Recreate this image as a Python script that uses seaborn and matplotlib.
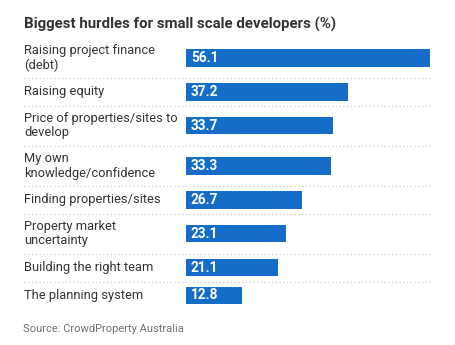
import numpy as np
import pandas as pd
import seaborn as sns
import matplotlib.pyplot as plt
from matplotlib.transforms import blended_transform_factory, offset_copy

# Survey results: share of respondents naming each hurdle (%)
hurdles = [
    "Raising project finance\n(debt)",
    "Raising equity",
    "Price of properties/sites to\ndevelop",
    "My own\nknowledge/confidence",
    "Finding properties/sites",
    "Property market\nuncertainty",
    "Building the right team",
    "The planning system",
]
shares = [56.1, 37.2, 33.7, 33.3, 26.7, 23.1, 21.1, 12.8]

title = "Biggest hurdles for small scale developers (%)"
source = "Source: CrowdProperty Australia"

BLUE = "#156dc8"
TEXT = "#333333"
GREY = "#707070"
FONT = "Roboto"

sns.set_theme(style="white")
plt.rcParams["font.family"] = [FONT, "DejaVu Sans"]

W, H = 456, 345
fig = plt.figure(figsize=(W / 100, H / 100), dpi=100)

# bar area spans these horizontal pixels; y data units are pixels from the top
left_px, right_px, label_px = 186, 430, 24
ax = fig.add_axes([left_px / W, 0, (right_px - left_px) / W, 1])

# each row is taller when its label wraps onto two lines
row_single, row_extra, first_top = 27.8, 12.3, 37.7
n_lines = np.array([h.count("\n") + 1 for h in hurdles])
row_h = row_single + row_extra * (n_lines - 1)
row_top = first_top + np.concatenate([[0], np.cumsum(row_h)[:-1]])
centers = row_top + row_h / 2
bar_px = 17.6

df = pd.DataFrame({"hurdle": hurdles, "share": shares, "ypos": centers})
sns.barplot(
    data=df, x="share", y="ypos", orient="h", native_scale=True,
    width=bar_px / np.diff(centers).min(), color=BLUE, saturation=1,
    edgecolor="none", linewidth=0, ax=ax,
)

xmax = max(shares)
ax.set_xlim(0, xmax)
ax.set_ylim(H, 0)
ax.set_axis_off()

# dotted separators between rows, running under the labels too
px_per_unit = (right_px - left_px) / xmax
sep_y = (row_top + row_h)[:-1]
ax.hlines(sep_y, -(left_px - label_px) / px_per_unit, xmax,
          colors="#cccccc", linestyles=(0, (1, 2)), linewidth=0.9, clip_on=False)

# category labels on the left
lab_tr = blended_transform_factory(fig.transFigure, ax.transData)
for text, y in zip(hurdles, centers):
    ax.text(label_px / W, y, text, transform=lab_tr, ha="left", va="center",
            fontsize=9.3, color=TEXT, linespacing=1.15)

# values written inside the start of each bar
val_tr = offset_copy(ax.transData, fig=fig, x=5, y=0, units="dots")
for v, y in zip(shares, centers):
    ax.text(0, y, f"{v:.1f}", transform=val_tr, ha="left", va="center",
            fontsize=9.8, fontweight="bold", color="white")

fig.text(label_px / W, 1 - 24 / H, title, ha="left", va="center",
         fontsize=10.8, fontweight="bold", color=TEXT)
fig.text(23 / W, 1 - 329 / H, source, ha="left", va="center",
         fontsize=8.0, color=GREY)

fig.savefig("out.png", dpi=100, facecolor="white")
